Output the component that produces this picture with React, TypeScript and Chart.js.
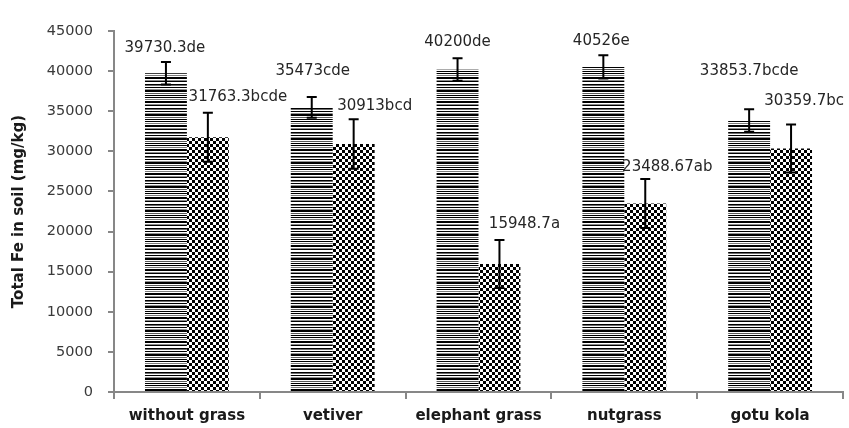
import React, { useEffect, useRef } from "react";
import { Chart, registerables } from "chart.js";

Chart.register(...registerables);

// Treatments on the x axis
const categories = ["without grass", "vetiver", "elephant grass", "nutgrass", "gotu kola"];

// Mean total Fe (mg/kg) for the two soil series
const seriesA = [39730.3, 35473, 40200, 40526, 33853.7];
const seriesB = [31763.3, 30913, 15948.7, 23488.67, 30359.7];

// Standard errors shown as error bars
const errorsA = [1400, 1300, 1400, 1450, 1400];
const errorsB = [3050, 3080, 3000, 3050, 3000];

// Significance letters appended to each value label
const lettersA = ["de", "cde", "de", "e", "bcde"];
const lettersB = ["bcde", "bcd", "a", "ab", "bc"];

// Y-axis range
const yMin = 0;
const yMax = 45000;
const yStep = 5000;

// Label placement, in pixels from the top-centre of each bar
const labelOffsetsA: [number, number][] = [[-1, -25], [1, -36], [0, -27], [-2, -26], [0, -49]];
const labelOffsetsB: [number, number][] = [[30, -40], [21, -38], [25, -40], [22, -36], [13, -47]];

const AXIS_GREY = "#878787";
const FONT = "DejaVu Sans";

// Row shades of the horizontal-stripe fill
const stripeRows = [
  "#ffffff", "#000000", "#ffffff", "#7a7a7a", "#ffffff", "#000000", "#000000", "#ffffff",
  "#8a8a8a", "#000000", "#ffffff", "#ffffff", "#000000", "#6e6e6e", "#ffffff", "#000000",
  "#ffffff", "#909090", "#000000", "#000000", "#ffffff", "#5a5a5a", "#ffffff", "#000000",
];

function makeStripePattern(): CanvasPattern | string {
  const c = document.createElement("canvas");
  c.width = 4;
  c.height = stripeRows.length;
  const g = c.getContext("2d");
  if (!g) return "#444";
  stripeRows.forEach((col, i) => {
    g.fillStyle = col;
    g.fillRect(0, i, 4, 1);
  });
  return g.createPattern(c, "repeat") || "#444";
}

function makeCheckerPattern(): CanvasPattern | string {
  const c = document.createElement("canvas");
  c.width = 6;
  c.height = 6;
  const g = c.getContext("2d");
  if (!g) return "#777";
  g.fillStyle = "#ffffff";
  g.fillRect(0, 0, 6, 6);
  g.fillStyle = "#000000";
  g.fillRect(0, 0, 3, 3);
  g.fillRect(3, 3, 3, 3);
  return g.createPattern(c, "repeat") || "#777";
}

const errorBarPlugin = {
  id: "errorBars",
  afterDatasetsDraw(chart: any) {
    const { ctx } = chart;
    const yScale = chart.scales.y;
    chart.data.datasets.forEach((ds: any, di: number) => {
      const errs = di === 0 ? errorsA : errorsB;
      const meta = chart.getDatasetMeta(di);
      meta.data.forEach((bar: any, i: number) => {
        const v = ds.data[i] as number;
        const top = yScale.getPixelForValue(v + errs[i]);
        const bot = yScale.getPixelForValue(v - errs[i]);
        const x = bar.x;
        ctx.save();
        ctx.strokeStyle = "#000000";
        ctx.lineWidth = 2;
        ctx.beginPath();
        ctx.moveTo(x, top);
        ctx.lineTo(x, bot);
        ctx.moveTo(x - 5, top);
        ctx.lineTo(x + 5, top);
        ctx.moveTo(x - 5, bot);
        ctx.lineTo(x + 5, bot);
        ctx.stroke();
        ctx.restore();
      });
    });
  },
};

const valueLabelPlugin = {
  id: "valueLabels",
  afterDraw(chart: any) {
    const { ctx } = chart;
    ctx.save();
    ctx.font = `15px "${FONT}"`;
    ctx.fillStyle = "#262626";
    ctx.textAlign = "center";
    ctx.textBaseline = "middle";
    chart.data.datasets.forEach((ds: any, di: number) => {
      const letters = di === 0 ? lettersA : lettersB;
      const offsets = di === 0 ? labelOffsetsA : labelOffsetsB;
      const meta = chart.getDatasetMeta(di);
      meta.data.forEach((bar: any, i: number) => {
        const text = String(ds.data[i]) + letters[i];
        const [dx, dy] = offsets[i];
        ctx.fillText(text, bar.x + dx, bar.y + dy);
      });
    });
    ctx.restore();
  },
};

export default function App() {
  const canvasRef = useRef<HTMLCanvasElement | null>(null);

  useEffect(() => {
    document.body.style.margin = "0";
    const canvas = canvasRef.current;
    if (!canvas) return;

    const chart = new Chart(canvas, {
      type: "bar",
      data: {
        labels: categories,
        datasets: [
          {
            data: seriesA,
            backgroundColor: makeStripePattern() as any,
            borderWidth: 0,
            barPercentage: 1,
            categoryPercentage: 0.575,
          },
          {
            data: seriesB,
            backgroundColor: makeCheckerPattern() as any,
            borderWidth: 0,
            barPercentage: 1,
            categoryPercentage: 0.575,
          },
        ],
      },
      options: {
        responsive: false,
        animation: false,
        devicePixelRatio: 1,
        layout: { padding: { top: 31, right: 6, left: 0, bottom: 0 } },
        plugins: {
          legend: { display: false },
          tooltip: { enabled: false },
        },
        scales: {
          x: {
            grid: {
              offset: true,
              drawOnChartArea: false,
              drawTicks: true,
              tickLength: 7,
              color: AXIS_GREY,
              lineWidth: 2,
            },
            border: { color: AXIS_GREY, width: 2 },
            ticks: {
              font: { family: FONT, size: 15, weight: "bold" },
              color: "#1a1a1a",
              padding: 8,
              maxRotation: 0,
              autoSkip: false,
            },
            afterFit: (s: any) => {
              s.height = 36;
            },
          },
          y: {
            min: yMin,
            max: yMax,
            ticks: {
              stepSize: yStep,
              font: { family: FONT, size: 14.5 },
              color: "#3a3a3a",
              padding: 15,
              callback: (v: any) => String(v),
            },
            grid: {
              drawOnChartArea: false,
              drawTicks: true,
              tickLength: 6,
              color: AXIS_GREY,
              lineWidth: 2,
            },
            border: { color: AXIS_GREY, width: 2 },
            title: {
              display: true,
              text: "Total Fe in soil (mg/kg)",
              font: { family: FONT, size: 15, weight: "bold" },
              color: "#1a1a1a",
              padding: { top: 10, bottom: 0 },
            },
            afterFit: (s: any) => {
              s.width = 114;
            },
          },
        },
      },
      plugins: [errorBarPlugin, valueLabelPlugin],
    });

    return () => chart.destroy();
  }, []);

  return (
    <div style={{ width: 849, height: 428 }}>
      <canvas ref={canvasRef} width={849} height={428} />
    </div>
  );
}
